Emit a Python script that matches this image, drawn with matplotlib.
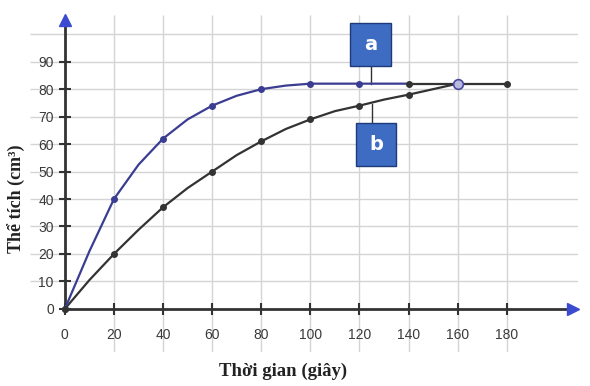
import numpy as np
import matplotlib.pyplot as plt
from matplotlib.patches import Rectangle

# time (s) and volume (cm3) (marked points)
t = [0, 20, 40, 60, 80, 100, 120, 140, 160, 180]
vol_a = [0, 40, 62, 74, 80, 82, 82, 82, 82, 82]
vol_b = [0, 20, 37, 50, 61, 69, 74, 78, 82, 82]
# curves every 10 s (the lines between markers)
t_fine = [0, 10, 20, 30, 40, 50, 60, 70, 80, 90, 100, 110, 120, 130, 140,
          150, 160, 170, 180]
curve_a = [0, 21, 40, 52.5, 62, 69, 74, 77.6, 80, 81.3, 82, 82, 82, 82, 82,
           82, 82, 82, 82]
curve_b = [0, 10.5, 20, 28.8, 37, 44, 50, 56, 61, 65.5, 69, 72, 74, 76.2, 78,
           80, 82, 82, 82]
x_ticks = [0, 20, 40, 60, 80, 100, 120, 140, 160, 180]
y_ticks = [0, 10, 20, 30, 40, 50, 60, 70, 80, 90]
grid_y = [10, 20, 30, 40, 50, 60, 70, 80, 90, 100]

blue = "#3a3d92"
dark = "#333333"
box_col = "#3d6cc2"

fig = plt.figure(figsize=(5.9, 3.86), dpi=100)
ax = fig.add_axes([30 / 590, 34 / 386, 548 / 590, 337 / 386])
ax.set_xlim(-14.2, 209)
ax.set_ylim(-15.7, 107)

# grid
ax.hlines(grid_y, -14.2, 209, color="#d4d4d4", lw=1, zorder=0)
ax.vlines(x_ticks[1:], -15.7, 107, color="#d4d4d4", lw=1, zorder=0)

# axes through origin
for s in ["top", "right"]:
    ax.spines[s].set_visible(False)
ax.spines["left"].set_position(("data", 0))
ax.spines["bottom"].set_position(("data", 0))
ax.spines["left"].set_bounds(0, 104)
ax.spines["bottom"].set_bounds(0, 206)
for s in ["left", "bottom"]:
    ax.spines[s].set_color(dark)
    ax.spines[s].set_linewidth(2)
    ax.spines[s].set_zorder(2)
ax.plot([0], [105], marker="^", color="#3b4bd0", ms=8, clip_on=False, zorder=3)
ax.plot([207], [0], marker=">", color="#3b4bd0", ms=8, clip_on=False, zorder=3)

ax.set_xticks(x_ticks)
ax.set_yticks(y_ticks)
ax.tick_params(axis="both", direction="inout", length=8, width=1.5, color=dark,
               labelsize=10, labelcolor="#3a3a3a")
ax.tick_params(axis="x", pad=10)
ax.tick_params(axis="y", pad=4)
for lab in ax.get_xticklabels() + ax.get_yticklabels():
    lab.set_family("Liberation Sans")

# series a: blue up to 140 s, then flat dark line
k_a = t_fine.index(140) + 1
ax.plot(t_fine[:k_a], curve_a[:k_a], color=blue, lw=1.6, zorder=4)
ax.plot(t_fine[k_a - 1:], curve_a[k_a - 1:], color=dark, lw=1.6, zorder=3)
n_a = t.index(140) + 1
ax.plot(t[:n_a - 1], vol_a[:n_a - 1], ls="none", color=blue, marker="o", ms=4,
        zorder=5)
ax.plot(t[n_a - 1:], vol_a[n_a - 1:], ls="none", color=dark, marker="o", ms=4,
        zorder=5)
# series b
k_b = t_fine.index(160) + 1
ax.plot(t_fine[:k_b], curve_b[:k_b], color=dark, lw=1.6, zorder=3)
n_b = t.index(160) + 1
ax.plot(t[:n_b], vol_b[:n_b], ls="none", color=dark, marker="o", ms=4, zorder=5)
ax.plot([t[n_b - 1]], [vol_b[n_b - 1]], marker="o", ms=7, mfc="#b8b8e0",
        mec="#4a4a9a", mew=1.2, zorder=6)

# labels a / b
ax.plot([124.5, 124.5], [82, 88.5], color=dark, lw=1, zorder=2)
ax.add_patch(Rectangle((116.2, 88.5), 16.6, 15.7, facecolor=box_col,
                       edgecolor="#1e3a78", lw=1, zorder=5))
ax.text(124.5, 96.3, "a", color="white", fontsize=14, fontweight="bold",
        ha="center", va="center", zorder=6)
ax.plot([125, 125], [74.5, 67.7], color=dark, lw=1, zorder=2)
ax.add_patch(Rectangle((118.4, 52), 16.6, 15.7, facecolor=box_col,
                       edgecolor="#1e3a78", lw=1, zorder=5))
ax.text(126.7, 59.8, "b", color="white", fontsize=14, fontweight="bold",
        ha="center", va="center", zorder=6)

fig.text(283 / 590, 1 - 371 / 386, "Thời gian (giây)", family="Liberation Serif",
         fontweight="bold", fontsize=13.5, ha="center", va="center",
         color="#222222")
fig.text(17 / 590, 1 - 199 / 386, "Thể tích (cm³)", family="Liberation Serif",
         fontweight="bold", fontsize=13, ha="center", va="center", rotation=90,
         color="#222222")

fig.savefig("out.png", dpi=100)
